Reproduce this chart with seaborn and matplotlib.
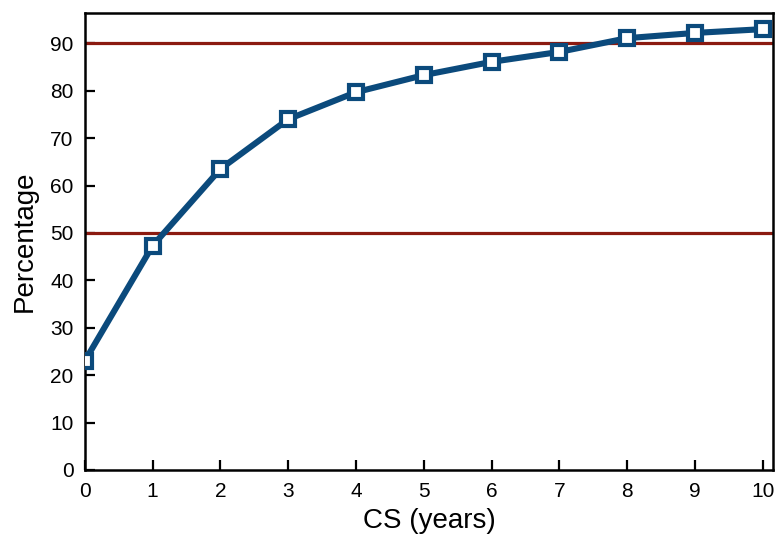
import matplotlib
matplotlib.use("Agg")
import matplotlib.pyplot as plt
import pandas as pd
import seaborn as sns

years = [0, 1, 2, 3, 4, 5, 6, 7, 8, 9, 10]
percentage = [23.0, 47.3, 63.5, 74.0, 79.7, 83.3, 86.1, 88.2, 91.1, 92.2, 93.0]
thresholds = [50, 90]

sns.set_style("ticks")
plt.rcParams["font.family"] = ["Liberation Sans", "DejaVu Sans"]
plt.rcParams["text.color"] = "black"
plt.rcParams["axes.labelcolor"] = "black"
plt.rcParams["xtick.color"] = "black"
plt.rcParams["ytick.color"] = "black"

df = pd.DataFrame({"CS (years)": years, "Percentage": percentage})

fig = plt.figure(figsize=(7.78, 5.38), dpi=100)
ax = fig.add_axes([0.109, 0.1264, 0.8846, 0.8494])

for t in thresholds:
    ax.axhline(t, color="#8b1a10", linewidth=2.3, zorder=1)

sns.lineplot(data=df, x="CS (years)", y="Percentage", ax=ax, color="#0b4a7c",
             linewidth=4.4, marker="s", markersize=10.5, markerfacecolor="white",
             markeredgecolor="#0b4a7c", markeredgewidth=3, zorder=3)

ax.set_xlim(0, 10.15)
ax.set_ylim(0, 96.4)
ax.set_xticks(range(0, 11))
ax.set_yticks(range(0, 91, 10))
ax.tick_params(direction="in", length=7, width=1.6, labelsize=15)
ax.tick_params(axis="x", pad=9)
ax.tick_params(axis="y", pad=8)
for s in ax.spines.values():
    s.set_linewidth(1.8)
    s.set_color("black")
ax.set_xlabel("CS (years)", fontsize=20, labelpad=5)
ax.set_ylabel("Percentage", fontsize=20, labelpad=9)

fig.savefig("out.png", dpi=100)
